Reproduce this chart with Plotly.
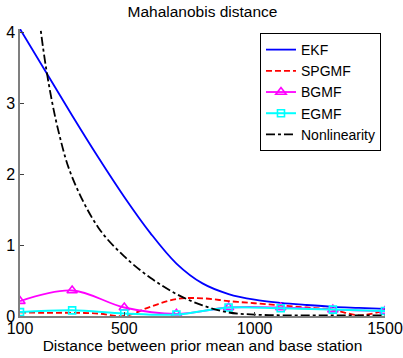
import plotly.graph_objects as go

# ---- data ----
x_fine = [100, 200, 300, 400, 500, 600, 700, 800, 900, 1000, 1100, 1200, 1300, 1400, 1500]
ekf = [4.05, 3.44, 2.83, 2.24, 1.68, 1.17, 0.74, 0.46, 0.31, 0.23, 0.185, 0.155, 0.13, 0.115, 0.10]
spgmf = [0.05, 0.045, 0.045, 0.035, 0.0, 0.13, 0.24, 0.25, 0.21, 0.18, 0.15, 0.12, 0.09, 0.01, 0.08]

x_grid = [100, 300, 500, 700, 900, 1100, 1300, 1500]
bgmf = [0.21, 0.36, 0.12, 0.03, 0.12, 0.12, 0.09, 0.07]
egmf = [0.055, 0.08, 0.035, 0.02, 0.12, 0.11, 0.09, 0.07]

x_nl = [150, 200, 250, 300, 400, 500, 600, 700, 800, 900, 1000, 1100, 1200, 1300, 1400, 1500]
nonlin = [4.95, 3.50, 2.57, 1.96, 1.25, 0.84, 0.54, 0.31, 0.15, 0.05, 0.02, 0.01, 0.01, 0.01, 0.01, 0.01]

x_ticks = [100, 500, 1000, 1500]
y_ticks = [0, 1, 2, 3, 4]

FONT = "Liberation Sans, Arial, Helvetica, sans-serif"

fig = go.Figure()
fig.add_trace(go.Scatter(x=x_fine, y=ekf, name="EKF", mode="lines",
                         line=dict(color="#0000ff", width=1.8, shape="spline")))
fig.add_trace(go.Scatter(x=x_fine, y=spgmf, name="SPGMF", mode="lines",
                         line=dict(color="#ff0000", width=1.8, dash="6px,3px", shape="spline")))
fig.add_trace(go.Scatter(x=x_grid, y=bgmf, name="BGMF", mode="lines+markers",
                         line=dict(color="#ff00ff", width=1.8, shape="spline"),
                         marker=dict(symbol="triangle-up-open", size=9, color="#ff00ff",
                                     line=dict(width=1.6, color="#ff00ff"))))
fig.add_trace(go.Scatter(x=x_grid, y=egmf, name="EGMF", mode="lines+markers",
                         line=dict(color="#00ffff", width=2, shape="spline"),
                         marker=dict(symbol="square-open", size=7, color="#00ffff",
                                     line=dict(width=1.6, color="#00ffff"))))
fig.add_trace(go.Scatter(x=x_nl, y=nonlin, name="Nonlinearity", mode="lines",
                         line=dict(color="#000000", width=1.8, dash="dashdot", shape="spline")))

fig.update_layout(
    width=403, height=358,
    margin=dict(l=20, r=18, t=29, b=41.5, autoexpand=False),
    paper_bgcolor="white", plot_bgcolor="white",
    font=dict(family=FONT, size=15, color="black"),
    title=dict(text="Mahalanobis distance", x=0.5, xref="paper", xanchor="center",
               y=1 - 12 / 358, yref="container", yanchor="middle",
               font=dict(family=FONT, size=15.5, color="black")),
    showlegend=True,
    legend=dict(x=0.6575, y=0.986, xanchor="left", yanchor="top",
                bgcolor="white", bordercolor="black", borderwidth=1,
                font=dict(family=FONT, size=14, color="black"),
                itemwidth=30, tracegroupgap=0),
    xaxis=dict(range=[100, 1500], tickvals=x_ticks, ticktext=[str(v) for v in x_ticks],
               automargin=False, ticklabelstandoff=-3,
               showgrid=False, zeroline=False, showline=True, linecolor="#7f7f7f",
               linewidth=1.5, ticks="inside", ticklen=4, tickcolor="#404040",
               tickfont=dict(family=FONT, size=16, color="black"),
               title=dict(text="Distance between prior mean and base station", standoff=0,
                          font=dict(family=FONT, size=15.5, color="black"))),
    yaxis=dict(range=[0, 4.05], tickvals=y_ticks, showgrid=False, zeroline=False,
               automargin=False,
               showline=True, linecolor="#7f7f7f", linewidth=1.5,
               ticks="inside", ticklen=4, tickcolor="#404040",
               tickfont=dict(family=FONT, size=16, color="black")),
)

fig.write_html("out.html", config={"displayModeBar": False},
               post_script="document.body.style.margin='0px';")
